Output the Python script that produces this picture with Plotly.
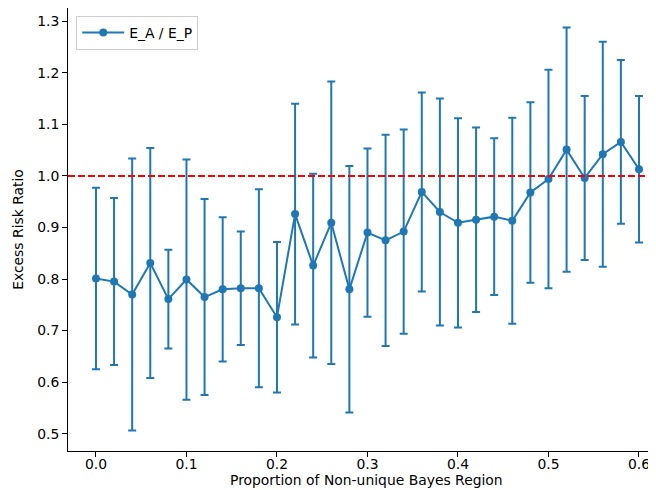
import plotly.graph_objects as go

x_vals = [0.00, 0.02, 0.04, 0.06, 0.08, 0.10, 0.12, 0.14, 0.16, 0.18, 0.20,
          0.22, 0.24, 0.26, 0.28, 0.30, 0.32, 0.34, 0.36, 0.38, 0.40,
          0.42, 0.44, 0.46, 0.48, 0.50, 0.52, 0.54, 0.56, 0.58, 0.60]
ratio_mean = [0.801, 0.795, 0.770, 0.831, 0.761, 0.799, 0.765, 0.780, 0.782, 0.782, 0.726,
              0.926, 0.826, 0.909, 0.780, 0.890, 0.875, 0.892, 0.969, 0.930, 0.909,
              0.915, 0.921, 0.913, 0.968, 0.994, 1.051, 0.996, 1.042, 1.066, 1.013]
ratio_err = [0.176, 0.162, 0.264, 0.223, 0.096, 0.233, 0.190, 0.140, 0.110, 0.192, 0.146,
             0.214, 0.178, 0.274, 0.239, 0.163, 0.205, 0.198, 0.193, 0.220, 0.203,
             0.179, 0.152, 0.200, 0.175, 0.212, 0.237, 0.159, 0.218, 0.159, 0.142]
reference_level = 1.0
x_title = "Proportion of Non-unique Bayes Region"
y_title = "Excess Risk Ratio"

blue = "#1f77b4"
font_family = "DejaVu Sans, sans-serif"
fs = 13.9

fig = go.Figure()
fig.add_trace(go.Scatter(
    x=x_vals, y=ratio_mean,
    mode="lines+markers",
    name="E_A / E_P",
    line=dict(color=blue, width=2),
    marker=dict(color=blue, size=8),
    error_y=dict(type="data", array=ratio_err, visible=True,
                 color=blue, thickness=2, width=4),
))

fig.add_shape(type="line", xref="paper", yref="y",
              x0=0, x1=1, y0=reference_level, y1=reference_level,
              line=dict(color="red", width=2, dash="7px,3px"))

# x-axis title placed as annotation (centred on the full, partly cropped axis)
fig.add_annotation(text=x_title, xref="paper", yref="paper",
                   x=0.5085, y=-0.0655, xanchor="center", yanchor="middle",
                   showarrow=False, font=dict(size=fs, color="black"))

# page body has an 8px default margin, so the figure is 8px smaller
fig.update_layout(
    width=648, height=482,
    margin=dict(l=60, r=0, t=0, b=39),
    paper_bgcolor="white", plot_bgcolor="white",
    font=dict(family=font_family, size=fs, color="black"),
    showlegend=True,
    legend=dict(x=0.014, y=0.982, xanchor="left", yanchor="top",
                bgcolor="white", bordercolor="#cccccc", borderwidth=1,
                itemwidth=42,
                font=dict(size=fs, color="black")),
)
fig.update_xaxes(
    range=[-0.0309, 0.6188], tick0=0, dtick=0.1, tickformat=".1f",
    showgrid=False, zeroline=False, automargin=False,
    showline=True, linecolor="black", linewidth=1, mirror=True,
    ticks="outside", ticklen=5, tickcolor="black",
    ticklabelstandoff=-5,
    tickfont=dict(size=fs, color="black"),
)
fig.update_yaxes(
    range=[0.4664, 1.3257], tick0=0.5, dtick=0.1, tickformat=".1f",
    showgrid=False, zeroline=False,
    showline=True, linecolor="black", linewidth=1,
    ticks="outside", ticklen=5, tickcolor="black",
    title=dict(text=y_title, standoff=10,
               font=dict(size=fs, color="black")),
    tickfont=dict(size=fs, color="black"),
)

fig.write_html("out.html")
